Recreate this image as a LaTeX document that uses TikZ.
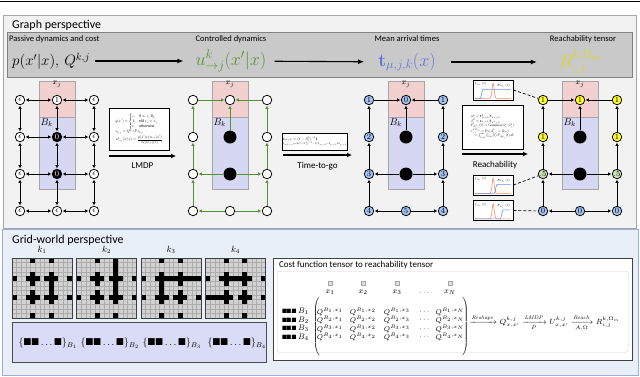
\documentclass[tikz,border=0pt]{standalone}
\usepackage{fix-cm}
\usepackage{amsmath,amssymb}
\usepackage[no-math]{fontspec}
\setmainfont{Carlito}
\usepackage{xcolor}
\usepackage{tikz}
\usetikzlibrary{arrows.meta,positioning,calc}

\definecolor{panelfill}{RGB}{242,242,242}
\definecolor{panelline}{RGB}{166,166,166}
\definecolor{bandfill}{RGB}{201,201,201}
\definecolor{bandline}{RGB}{130,130,130}
\definecolor{xjfill}{RGB}{243,208,208}
\definecolor{bkfill}{RGB}{214,216,243}
\definecolor{polgreen}{RGB}{84,145,50}
\definecolor{timeblue}{RGB}{95,115,225}
\definecolor{reachyel}{RGB}{222,215,40}
\definecolor{nodeblue}{RGB}{164,194,240}
\definecolor{nodeyel}{RGB}{255,255,40}
\definecolor{nodegrn}{RGB}{200,226,182}
\definecolor{gridpanel}{RGB}{233,239,249}
\definecolor{gridline}{RGB}{150,175,220}
\definecolor{setfill}{RGB}{218,219,246}
\definecolor{pdforange}{RGB}{245,140,100}
\definecolor{cdfblue}{RGB}{100,145,230}

\newcommand{\gridworld}[3]{%
  \begin{scope}[shift={(#1,#2)}]
    \fill[gray!35] (0,0) rectangle (60,60);
    \foreach \i in {1,...,12} {
      \draw[gray!65, line width=0.3pt] (\i*60/13,0) -- (\i*60/13,60);
      \draw[gray!65, line width=0.3pt] (0,\i*60/13) -- (60,\i*60/13);
    }
    \foreach \c/\r in {4/0,8/0,4/12,8/12,0/4,0/8,12/4,12/8,3/4,4/4,5/4,4/3,4/5,7/4,8/4,9/4,8/3,8/5,
                       3/8,4/8,5/8,4/7,4/9,7/8,8/8,9/8,8/7,8/9,#3}
      \fill (\c*60/13,\r*60/13) rectangle ++(60/13,60/13);
    \draw[black!75, line width=0.8pt] (0,0) rectangle (60,60);
  \end{scope}}
\newcommand{\reachcurves}[2]{%
  \begin{scope}[shift={(#1.south west)}, y=1pt]
    \draw[pdforange, line width=0.6pt] (2,2) -- (17,2) .. controls (19.5,2) and (19.5,17) .. (20.5,17)
      .. controls (21.5,17) and (21.5,2) .. (24,2) -- (38,2);
    \draw[cdfblue, line width=0.6pt] (2,2) -- (#2-1.5,2) .. controls (#2,2) and (#2,11) .. (#2+1.5,11) -- (38,11);
    \node[tiny] (#1-f) at (8,16) {$f_{\Omega_m}(t)$};
    \node[tiny] (#1-F) at (31,14.5) {$F_{A^k_{i,j}}(t)$};
  \end{scope}}
\newcommand{\rowsq}{$\blacksquare\!\blacksquare\!.\!\blacksquare$}

\begin{document}
\begin{tikzpicture}[x=1pt, y=-1pt,
  font=\fontsize{9}{10}\selectfont,
  panel/.style ={draw=panelline, fill=panelfill, line width=0.8pt, anchor=north west, inner sep=0},
  ttl/.style   ={anchor=west, font=\fontsize{12}{14}\selectfont, inner sep=0},
  hdr/.style   ={font=\fontsize{8.5}{10}\selectfont, inner sep=0},
  bandmath/.style={font=\fontsize{18}{20}\selectfont, inner sep=0},
  bandarr/.style={-{Latex[length=6pt,width=5pt]}, line width=1.1pt},
  xjbox/.style ={draw=gray!70, fill=xjfill, minimum width=36, minimum height=36, inner sep=0},
  bkbox/.style ={draw=gray!70, fill=bkfill, minimum width=36, minimum height=72, inner sep=0},
  vx/.style    ={circle, draw, line width=0.75pt, fill=white, minimum size=9.5pt, inner sep=0pt, font=\fontsize{8}{8}\selectfont},
  vblk/.style  ={vx, fill=black, text=white},
  hole/.style  ={circle, fill=black, minimum size=13pt, inner sep=0pt},
  vblue/.style ={vx, fill=nodeblue}, vyel/.style={vx, fill=nodeyel}, vgrn/.style={vx, fill=nodegrn},
  biarr/.style ={{Latex[length=3.2pt,width=3.6pt]}-{Latex[length=3.2pt,width=3.6pt]}, line width=1pt, shorten <=0.6pt, shorten >=0.6pt},
  karr/.style  ={-{Latex[length=3.2pt,width=3.6pt]}, line width=1pt, shorten >=0.6pt},
  garr/.style  ={karr, draw=polgreen},
  fbox/.style  ={draw, fill=white, line width=0.8pt, inner sep=1pt},
  steparr/.style={-{Latex[length=5pt,width=5pt]}, line width=1.4pt},
  curvebox/.style={draw, line width=0.7pt, fill=white, minimum width=40, minimum height=20, inner sep=0},
  link/.style  ={densely dashed, line width=0.7pt},
  tiny/.style  ={font=\fontsize{3}{3}\selectfont, inner sep=0},
  ent/.style   ={font=\fontsize{7}{8}\selectfont, inner sep=0},
  setbox/.style={draw=black!70, fill=setfill, line width=0.8pt, minimum width=254, minimum height=40, inner sep=0}
]
\useasboundingbox (0,0) rectangle (640,376);
\draw[line width=1pt] (0,1.5) -- (640,1.5);
% ---- graph perspective
\node[panel, minimum width=633, minimum height=213] (gpanel) at (3,15) {};
\node[ttl] (gttl) at (12,25) {Graph perspective};
\node[draw=bandline, fill=bandfill, line width=0.8pt, anchor=north west, minimum width=625, minimum height=45, inner sep=0] (band) at (7,32) {};
\node[hdr, anchor=west] (hP) at (9,39) {Passive dynamics and cost};
\node[hdr] (hC) at (231,39) {Controlled dynamics};
\node[hdr] (hT) at (407,39) {Mean arrival times};
\node[hdr] (hR) at (583,39) {Reachability tensor};
\node[bandmath, font=\fontsize{15}{17}\selectfont, anchor=west] (fP) at (12,61) {$p(x'|x),\,Q^{k,j}$};
\node[bandmath, text=polgreen] (fC) at (231,61) {$u^{k}_{\rightarrow j}(x'|x)$};
\node[bandmath, text=timeblue] (fT) at (407,62) {$\mathbf{t}_{\mu,j,k}(x)$};
\node[bandmath, text=reachyel] (fR) at (580,62) {$R^{k,\Omega_m}_{:,j}$};
\draw[bandarr, shorten <=5pt, shorten >=12pt] (fP) -- (fC);
\draw[bandarr, shorten <=8pt, shorten >=14pt] (fC) -- (fT);
\draw[bandarr, shorten <=15pt, shorten >=22pt] (fT) -- (fR);
% target / obstacle boxes of the four graphs
\foreach \g/\cx in {p/57,c/230,t/406,r/580} {
  \node[xjbox] (\g-xj) at (\cx,99) {};
  \node[bkbox] (\g-bk) at (\cx,153) {};
  \node[font=\fontsize{8}{8}\selectfont, anchor=north, inner sep=0.5pt] (\g-xjl) at (\g-xj.north) {$x_j$};
  \node[font=\fontsize{10}{10}\selectfont, anchor=north west, inner sep=1.5pt] (\g-bkl) at (\g-bk.north west) {$B_k$};
}
% passive dynamics
\foreach \r/\y in {1/100,2/137,3/174,4/211} {
  \node[vx] (p-l\r) at (20,\y) {$\epsilon$};
  \node[vx] (p-r\r) at (94,\y) {$\epsilon$};
}
\node[vx] (p-m1) at (57,100) {$1$};
\node[vblk] (p-m2) at (57,137) {$0$};
\node[vblk] (p-m3) at (57,174) {$0$};
\node[vx] (p-m4) at (57,211) {$\epsilon$};
\foreach \r in {1,...,4} {\draw[biarr] (p-l\r) -- (p-m\r); \draw[biarr] (p-m\r) -- (p-r\r);}
\foreach \a/\b in {1/2,2/3,3/4} {\draw[biarr] (p-l\a) -- (p-l\b); \draw[biarr] (p-m\a) -- (p-m\b); \draw[biarr] (p-r\a) -- (p-r\b);}
% controlled dynamics
\foreach \r/\y in {1/100,2/137,3/174,4/211} {
  \node[vx] (c-l\r) at (193,\y) {};
  \node[vx] (c-r\r) at (267,\y) {};
}
\node[vx] (c-m1) at (230,100) {};
\node[hole] (c-m2) at (230,137) {};
\node[hole] (c-m3) at (230,174) {};
\node[vx] (c-m4) at (230,211) {};
% mean arrival times
\foreach \r/\y in {1/100,2/137,3/174,4/211} {
  \node[vblue] (t-l\r) at (369,\y) {$\r$};
  \node[vblue] (t-r\r) at (443,\y) {$\r$};
}
\node[vblue] (t-m1) at (406,100) {$0$};
\node[hole] (t-m2) at (406,137) {};
\node[hole] (t-m3) at (406,174) {};
\node[vblue] (t-m4) at (406,211) {$5$};
% reachability
\node[vyel] (r-l1) at (543,100) {$1$}; \node[vyel] (r-m1) at (580,100) {$1$}; \node[vyel] (r-r1) at (617,100) {$1$};
\node[vyel] (r-l2) at (543,137) {$1$}; \node[hole] (r-m2) at (580,137) {}; \node[vyel] (r-r2) at (617,137) {$1$};
\node[vgrn] (r-l3) at (543,174) {$.5$}; \node[hole] (r-m3) at (580,174) {}; \node[vgrn] (r-r3) at (617,174) {$.5$};
\node[vblue] (r-l4) at (543,211) {$0$}; \node[vblue] (r-m4) at (580,211) {$0$}; \node[vblue] (r-r4) at (617,211) {$0$};
\foreach \g/\s in {c/garr,t/karr,r/karr} {
  \draw[\s] (\g-l1) -- (\g-m1); \draw[\s] (\g-r1) -- (\g-m1); \draw[\s] (\g-m2) -- (\g-m1);
  \draw[\s] (\g-m3) -- (\g-l3); \draw[\s] (\g-m3) -- (\g-r3);
  \draw[\s] (\g-m4) -- (\g-l4); \draw[\s] (\g-m4) -- (\g-r4);
  \foreach \a/\b in {4/3,3/2,2/1} {\draw[\s] (\g-l\a) -- (\g-l\b); \draw[\s] (\g-r\a) -- (\g-r\b);}
}
% transitions between the graphs
\node[fbox, minimum width=60, minimum height=42] (lmdpf) at (139,129)
  {\scalebox{0.42}{$\begin{array}{@{}l@{}} q(x')=\begin{cases}\epsilon, & \text{if } x_i\in B_k\\ 1, & \text{elif } x_i=x_j\\ \epsilon, & \text{otherwise}\end{cases}\\[3pt]
   z_{k,j}=Q^{k,j}Pz_{k,j}\\[3pt] u^{k}_{\rightarrow j}(x'|x)=\dfrac{p(x'|x)z_{k,j}(x')}{G[z_{k,j}](x)}\end{array}$}};
\node[fbox, minimum width=60, minimum height=17] (ttgf) at (315,141.5)
  {\scalebox{0.42}{$\begin{array}{@{}l@{}}\mathbf{t}_{\mu,j,k}=(I-S^{k}_{j})^{-1}\mathbf{1}\\
   \scriptstyle\mathbf{t}_{\sigma^2,j,k}=(2(I-S^k_j)^{-1}-I)\,\mathbf{t}_{\mu,j,k}-\mathbf{t}_{\mu,j,k}\circ\mathbf{t}_{\mu,j,k}\end{array}$}};
\node[fbox, minimum width=61, minimum height=44] (reachf) at (492.5,127)
  {\scalebox{0.4}{$\begin{array}{@{}l@{}} \alpha^{k}_{j}=\mathbf{t}^{2}_{\mu,j,k}/\mathbf{t}_{\sigma^2,j,k}\\ \beta^{k}_{j}=\mathbf{t}_{\mu,j,k}/\mathbf{t}_{\sigma^2,j,k}\\
   F_{A^{k}_{i,j}}(t)=\mathrm{Gamma}(\alpha^{k}_{j},\beta^{k}_{j})\\ r^{k,\Omega_m}_{i,j}=\Pr(A^{k}_{i,j}<\Omega_m)\\
   \quad=\int_{t=0}^{\infty}f_{\Omega_m}(t)\,F_{A^{k}_{i,j}}(t)\,dt\end{array}$}};
\coordinate (lmdp-s) at (109,156); \coordinate (lmdp-e) at (176,156);
\coordinate (ttg-s) at (283,155);  \coordinate (ttg-e) at (352,155);
\coordinate (reach-s) at (462,154); \coordinate (reach-e) at (528,154);
\draw[steparr] (lmdp-s) -- node[below=3pt] (lmdpl) {LMDP} (lmdp-e);
\draw[steparr] (ttg-s) -- node[below=3pt] (ttgl) {Time-to-go} (ttg-e);
\draw[steparr] (reach-s) -- node[below=3pt] (reachl) {Reachability} (reach-e);
% arrival-time densities against the horizon
\node[curvebox] (plA) at (493,90) {};
\node[curvebox] (plB) at (493,185) {};
\node[curvebox] (plC) at (493,210.5) {};
\reachcurves{plA}{9}
\reachcurves{plB}{23}
\reachcurves{plC}{29}
\draw[link] (plA.east) -- (r-l1);
\draw[link] (plB.east) -- (r-l3);
\draw[link] (plC.east) -- (r-l4);
% ---- grid-world perspective
\node[panel, draw=gridline, fill=gridpanel, minimum width=636, minimum height=146] (wpanel) at (2,229) {};
\node[ttl] (wttl) at (12,240) {Grid-world perspective};
\gridworld{12}{258}{8/6}
\gridworld{76.5}{258}{8/1,8/2,8/6}
\gridworld{141}{258}{6/4,10/4,11/4,4/6}
\gridworld{205.5}{258}{6/4,1/8,2/8}
\foreach \k/\x in {1/42,2/106.5,3/171,4/235.5}
  \node (k\k) at (\x,250) {$k_{\k}$};
\node[setbox] (sets) at (139,342) {};
\foreach \b/\x in {1/48,2/110,3/172,4/237}
  \node[font=\fontsize{10}{10}\selectfont] (set-\b) at (\x,343) {$\{\blacksquare\blacksquare\ldots\blacksquare\}_{B_{\b}}$};
% cost function tensor
\node[draw=black!75, line width=1.2pt, fill=white, anchor=north west, minimum width=359, minimum height=102, inner sep=0] (costbox) at (273,258) {};
\node[anchor=west, inner sep=0] (costttl) at (279,265.5) {Cost function tensor to reachability tensor};
\node[draw=gray!35, fill=white, rounded corners=2pt, anchor=north west, minimum width=351, minimum height=81, inner sep=0] (costin) at (277,271) {};
\foreach \j/\x in {1/330,2/363,3/397,N/450} {
  \node[draw=gray!70, fill=gray!25, line width=0.4pt, minimum size=4pt, inner sep=0] (ic-\j) at (\x,283) {};
  \node[ent, font=\fontsize{8}{8}\selectfont] (hx-\j) at (\x,292.5) {$x_{\j}$};
}
\node[ent] (hx-d) at (425,292.5) {$\cdots$};
\foreach \i/\y in {1/311.5,2/320,3/328.5,4/337} {
  \node[ent, font=\fontsize{5}{5}\selectfont, anchor=east] (rl-\i) at (297,\y) {\rowsq};
  \node[ent, font=\fontsize{8}{8}\selectfont, anchor=west] (rb-\i) at (298,\y) {$B_{\i}$};
  \foreach \j/\x in {1/330,2/363,3/397,N/450}
    \node[ent] (q-\i-\j) at (\x,\y) {$Q^{B_{\i},x_{\j}}$};
  \node[ent] (qd-\i) at (425,\y) {$\cdots$};
}
\node[ent] (lpar) at (317,327) {$\left(\vrule height 29pt depth 29pt width 0pt\right.$};
\node[ent] (rpar) at (465,327) {$\left.\vrule height 29pt depth 29pt width 0pt\right)$};
\node[ent, font=\fontsize{7.5}{9}\selectfont, anchor=west] (chain) at (469,323)
  {$\xrightarrow{\mathit{Reshape}}Q^{k,j}_{x,x'}\xrightarrow[P]{\mathit{LMDP}}U^{k,j}_{x,x'}\xrightarrow[A,\Omega]{\mathit{Reach}}R^{k,\Omega_m}_{i,j}$};
\end{tikzpicture}
\end{document}
